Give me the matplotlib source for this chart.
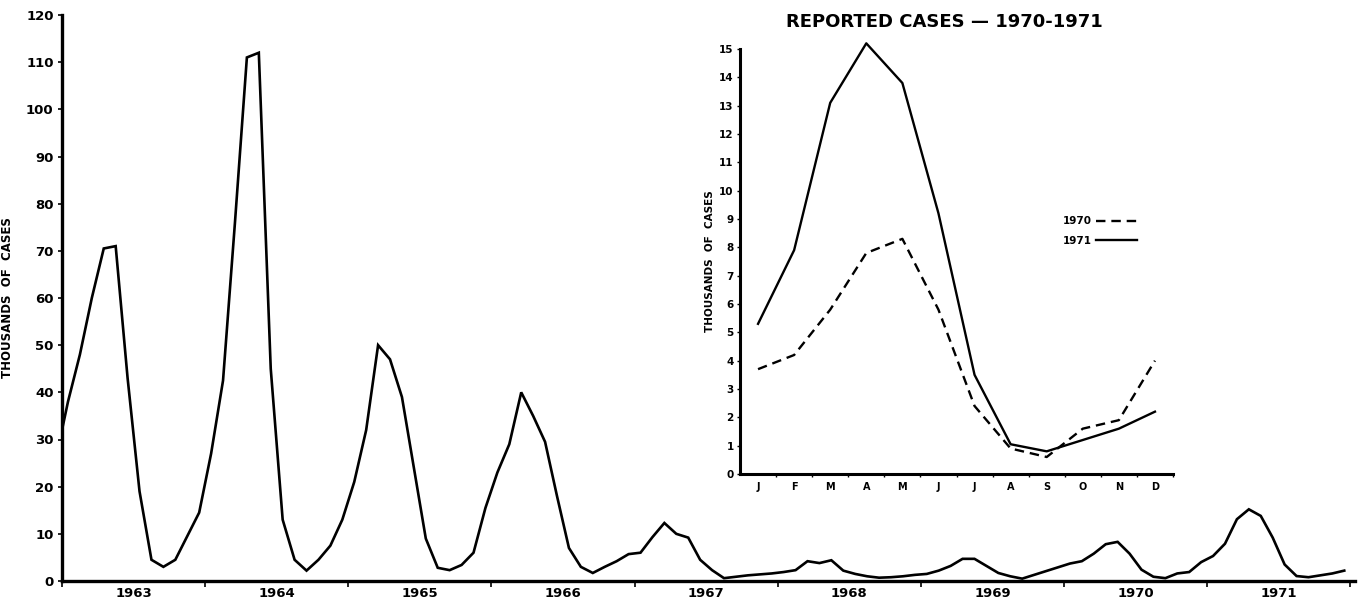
import numpy as np
import matplotlib.pyplot as plt
from matplotlib.ticker import MultipleLocator

plt.rcParams['font.family'] = ['DejaVu Sans']
plt.rcParams['font.weight'] = 'bold'

# monthly reported cases, thousands (Dec 1962 only leads the line in at the axis)
dec_1962 = [26]
cases_1963 = [38, 48, 60, 70.5, 71, 43, 19, 4.5, 3, 4.5, 9.5, 14.5]
cases_1964 = [27, 42.5, 76, 111, 112, 45, 13, 4.5, 2.2, 4.5, 7.5, 13]
cases_1965 = [21, 32, 50, 47, 39, 24, 9, 2.8, 2.3, 3.4, 6, 15.5]
cases_1966 = [23, 29, 40, 35, 29.5, 18, 7, 3, 1.7, 3.0, 4.2, 5.7]
cases_1967 = [6, 9.3, 12.3, 10, 9.2, 4.5, 2.3, 0.6, 0.9, 1.2, 1.4, 1.6]
cases_1968 = [1.9, 2.3, 4.2, 3.8, 4.4, 2.2, 1.5, 1.0, 0.7, 0.8, 1.0, 1.3]
cases_1969 = [1.5, 2.2, 3.2, 4.7, 4.7, 3.2, 1.7, 1.0, 0.5, 1.3, 2.1, 2.9]
cases_1970 = [3.7, 4.2, 5.8, 7.8, 8.3, 5.8, 2.4, 0.9, 0.6, 1.6, 1.9, 4.0]
cases_1971 = [5.3, 7.9, 13.1, 15.2, 13.8, 9.2, 3.5, 1.05, 0.8, 1.2, 1.6, 2.2]

years = ["1963", "1964", "1965", "1966", "1967", "1968", "1969", "1970", "1971"]
months = ["J", "F", "M", "A", "M", "J", "J", "A", "S", "O", "N", "D"]

series = (dec_1962 + cases_1963 + cases_1964 + cases_1965 + cases_1966
          + cases_1967 + cases_1968 + cases_1969 + cases_1970 + cases_1971)
# x in months from Jan 1963, points at mid-month
x = np.arange(len(series)) - 1 + 0.5

fig = plt.figure(figsize=(13.63, 6.10), dpi=100)
ax = fig.add_axes([62 / 1363, 1 - 581 / 610, (1355 - 62) / 1363, (581 - 15) / 610])
ax.plot(x, series, color="black", lw=1.9, solid_joinstyle="miter")
ax.set_xlim(0, 108.4)
ax.set_ylim(0, 120)
ax.yaxis.set_major_locator(MultipleLocator(10))
ax.set_xticks(np.arange(0, 109, 12))
ax.set_xticklabels([])
ax.set_xticks(np.arange(len(years)) * 12 + 6, minor=True)
ax.set_xticklabels(years, minor=True, fontsize=9.5)
ax.tick_params(axis="x", which="major", direction="out", length=4, width=1.2)
ax.tick_params(axis="x", which="minor", length=0, pad=4)
ax.tick_params(axis="y", direction="out", length=3, width=1.2, labelsize=9.5, pad=3)
for s in ["top", "right"]:
    ax.spines[s].set_visible(False)
for s in ["left", "bottom"]:
    ax.spines[s].set_linewidth(2.4)
ax.set_ylabel("THOUSANDS  OF  CASES", fontsize=8.5, fontweight="bold", labelpad=9)

# inset: 1970 vs 1971
ins = fig.add_axes([740 / 1363, 1 - 474 / 610, (1173 - 740) / 1363, (474 - 49) / 610])
mx = np.arange(12)
ins.plot(mx, cases_1970, color="black", lw=1.7, ls=(0, (4, 2.5)), label="1970",
         clip_on=False)
ins.plot(mx, cases_1971, color="black", lw=1.7, label="1971", clip_on=False)
ins.set_xlim(-0.5, 11.5)
ins.set_ylim(0, 15)
ins.yaxis.set_major_locator(MultipleLocator(1))
ins.set_xticks(mx)
ins.set_xticklabels(months, fontsize=7)
ins.set_xticks(mx + 0.5, minor=True)
ins.tick_params(axis="x", which="major", length=0, pad=6)
ins.tick_params(axis="x", which="minor", direction="out", length=2.5, width=1)
ins.tick_params(axis="y", direction="out", length=2.5, width=1, labelsize=7.5, pad=2)
for s in ["top", "right"]:
    ins.spines[s].set_visible(False)
for s in ["left", "bottom"]:
    ins.spines[s].set_linewidth(2.2)
ins.set_ylabel("THOUSANDS  OF  CASES", fontsize=7.5, fontweight="bold", labelpad=3)
fig.text(944 / 1363, 1 - 22 / 610, "REPORTED CASES — 1970-1971", fontsize=13,
         fontweight="bold", ha="center", va="center")
ins.legend(loc="upper left", bbox_to_anchor=(1058 / 1363, 1 - 211 / 610),
           bbox_transform=fig.transFigure, frameon=False, markerfirst=False,
           fontsize=7.5, handlelength=3.9, handletextpad=0.4, borderpad=0,
           labelspacing=0.9)

fig.savefig("out.png", dpi=100)
